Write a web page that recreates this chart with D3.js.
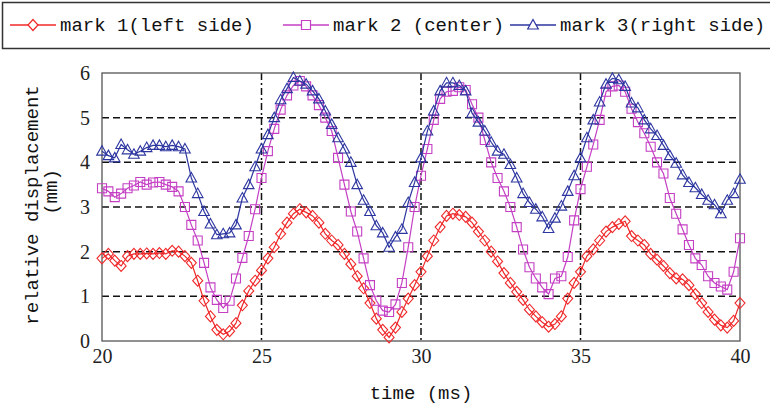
<!DOCTYPE html>
<html>
<head>
<meta charset="utf-8">
<script src="https://cdn.jsdelivr.net/npm/d3@7"></script>
<style>
  body { margin: 0; background: #fff; }
  svg { display: block; }
</style>
</head>
<body>
<svg width="770" height="409"></svg>
<script>
// time axis samples, one every 0.2 ms
var times = d3.range(0, 101).map(function(i) { return +(20 + i * 0.2).toFixed(1); });

var mark1 = [1.85,1.95,1.80,1.68,1.90,1.95,1.95,1.96,1.95,1.97,
             1.95,2.02,2.00,1.90,1.75,1.35,0.90,0.55,0.25,0.15,
             0.22,0.40,0.80,1.12,1.35,1.58,1.85,2.10,2.40,2.65,
             2.85,2.95,2.88,2.80,2.65,2.40,2.25,2.15,1.95,1.72,
             1.45,1.18,0.85,0.50,0.25,0.08,0.30,0.65,0.95,1.25,
             1.55,1.90,2.25,2.55,2.80,2.85,2.82,2.78,2.65,2.45,
             2.25,2.00,1.78,1.52,1.30,1.10,0.92,0.70,0.55,0.42,
             0.32,0.38,0.55,0.95,1.30,1.55,1.90,2.05,2.25,2.45,
             2.55,2.62,2.68,2.35,2.25,2.15,1.95,1.82,1.68,1.52,
             1.40,1.38,1.25,1.05,0.85,0.65,0.48,0.35,0.30,0.45,
             0.85];

var mark2 = [3.42,3.35,3.22,3.30,3.42,3.48,3.56,3.50,3.55,3.56,
             3.50,3.45,3.35,3.00,2.60,2.25,1.75,1.20,0.92,0.74,
             0.90,1.40,1.86,2.35,2.95,3.65,4.25,4.75,5.18,5.50,
             5.72,5.82,5.70,5.50,5.28,5.00,4.70,4.10,3.50,2.90,
             2.45,1.85,1.25,0.90,0.68,0.65,0.82,1.30,2.10,3.00,
             3.70,4.30,4.95,5.42,5.58,5.60,5.68,5.62,5.30,5.00,
             4.50,4.00,3.65,3.35,3.00,2.55,2.05,1.65,1.40,1.20,
             1.05,1.40,1.45,1.88,2.70,3.40,3.90,4.40,4.95,5.58,
             5.70,5.72,5.58,5.20,4.90,4.65,4.35,4.00,3.75,3.20,
             2.85,2.50,2.15,1.85,1.70,1.45,1.30,1.22,1.15,1.55,
             2.30];

var mark3 = [4.25,4.15,4.10,4.40,4.28,4.18,4.25,4.33,4.38,4.38,
             4.35,4.38,4.35,4.30,3.65,3.30,2.90,2.62,2.38,2.40,
             2.42,2.60,3.20,3.50,3.90,4.30,4.62,5.00,5.40,5.65,
             5.90,5.82,5.75,5.60,5.42,5.15,4.85,4.55,4.30,4.00,
             3.50,3.15,2.90,2.58,2.42,2.10,2.33,2.50,3.10,3.55,
             4.10,4.70,5.15,5.60,5.78,5.78,5.72,5.60,5.10,4.90,
             4.70,4.45,4.25,4.18,3.95,3.65,3.30,3.10,2.95,2.78,
             2.52,2.75,3.02,3.35,3.70,4.10,4.55,4.95,5.35,5.75,
             5.88,5.85,5.70,5.33,5.22,4.95,4.75,4.60,4.38,4.15,
             3.98,3.72,3.55,3.43,3.28,3.15,3.05,2.85,3.15,3.30,
             3.62];

var seriesNames = ["mark 1(left side)", "mark 2 (center)", "mark 3(right side)"];
var xTicks = [20, 25, 30, 35, 40];
var yTicks = [0, 1, 2, 3, 4, 5, 6];

var series = [
  { name: seriesNames[0], values: mark1, color: "#f0282a", shape: "diamond" },
  { name: seriesNames[1], values: mark2, color: "#c43fc4", shape: "square" },
  { name: seriesNames[2], values: mark3, color: "#2d36a0", shape: "triangle" }
];

var svg = d3.select("svg");
var plotLeft = 102, plotRight = 740, plotTop = 73, plotBottom = 341;

var xScale = d3.scaleLinear().domain([20, 40]).range([plotLeft, plotRight]);
var yScale = d3.scaleLinear().domain([0, 6]).range([plotBottom, plotTop]);

function markerPath(shape) {
  if (shape === "diamond") return "M0,-5.5L5,0L0,5.5L-5,0Z";
  if (shape === "square") return "M-4.5,-4.5H4.5V4.5H-4.5Z";
  return "M0,-5.5L5.3,4H-5.3Z";
}

// legend box
svg.append("rect")
   .attr("x", 2.5).attr("y", 2.5)
   .attr("width", 780).attr("height", 46)
   .attr("fill", "none")
   .attr("stroke", "#333")
   .attr("stroke-width", 1.5);

var legendX = [10, 283, 510];
var legend = svg.selectAll(".legend")
   .data(series)
   .enter().append("g")
   .attr("class", "legend")
   .attr("transform", function(d, i) { return "translate(" + legendX[i] + ",25)"; });

legend.append("line")
   .attr("x1", 0).attr("x2", 46)
   .attr("stroke", function(d) { return d.color; })
   .attr("stroke-width", 1.4);
legend.append("path")
   .attr("transform", "translate(23,0)")
   .attr("d", function(d) { return markerPath(d.shape); })
   .attr("fill", "#fff")
   .attr("stroke", function(d) { return d.color; })
   .attr("stroke-width", 1.2);
legend.append("text")
   .attr("x", 50)
   .attr("y", 6)
   .attr("font-family", "Liberation Mono, monospace")
   .attr("font-size", "19px")
   .attr("fill", "#111")
   .text(function(d) { return d.name; });

// grid
var g = svg.append("g");
g.selectAll(".hgrid")
 .data(yTicks.slice(1, -1))
 .enter().append("line")
 .attr("x1", plotLeft).attr("x2", plotRight)
 .attr("y1", function(d) { return yScale(d); })
 .attr("y2", function(d) { return yScale(d); })
 .attr("stroke", "#111")
 .attr("stroke-width", 1.5)
 .attr("stroke-dasharray", "7,4");

g.selectAll(".vgrid")
 .data(xTicks.slice(1, -1))
 .enter().append("line")
 .attr("x1", function(d) { return xScale(d); })
 .attr("x2", function(d) { return xScale(d); })
 .attr("y1", plotTop).attr("y2", plotBottom)
 .attr("stroke", "#111")
 .attr("stroke-width", 1.5)
 .attr("stroke-dasharray", "7,3,2,3");

// frame
svg.append("rect")
   .attr("x", plotLeft).attr("y", plotTop)
   .attr("width", plotRight - plotLeft).attr("height", plotBottom - plotTop)
   .attr("fill", "none")
   .attr("stroke", "#555")
   .attr("stroke-width", 1.3);

// axes
var xAxis = svg.append("g")
   .attr("transform", "translate(0," + plotBottom + ")")
   .call(d3.axisBottom(xScale).tickValues(xTicks).tickFormat(d3.format("d")).tickSize(0).tickPadding(8));
var yAxis = svg.append("g")
   .attr("transform", "translate(" + plotLeft + ",0)")
   .call(d3.axisLeft(yScale).tickValues(yTicks).tickFormat(d3.format("d")).tickSize(0).tickPadding(12));
[xAxis, yAxis].forEach(function(a) {
  a.select(".domain").remove();
  a.selectAll("text")
   .attr("font-family", "Liberation Serif, serif")
   .attr("font-size", "20px")
   .attr("fill", "#222");
});

// lines and markers
var line = d3.line()
   .x(function(d, i) { return xScale(times[i]); })
   .y(function(d) { return yScale(d); });

series.forEach(function(s) {
  svg.append("path")
     .datum(s.values)
     .attr("d", line)
     .attr("fill", "none")
     .attr("stroke", s.color)
     .attr("stroke-width", 1.2);
  svg.append("g")
     .selectAll("path")
     .data(s.values)
     .enter().append("path")
     .attr("transform", function(d, i) { return "translate(" + xScale(times[i]) + "," + yScale(d) + ")"; })
     .attr("d", markerPath(s.shape))
     .attr("fill", "none")
     .attr("stroke", s.color)
     .attr("stroke-width", 1.1);
});

// axis titles
svg.append("text")
   .attr("transform", "translate(38,205) rotate(-90)")
   .attr("text-anchor", "middle")
   .attr("font-family", "Liberation Mono, monospace")
   .attr("font-size", "19px")
   .attr("fill", "#111")
   .text("relative displacement");
svg.append("text")
   .attr("transform", "translate(57,192) rotate(-90)")
   .attr("text-anchor", "middle")
   .attr("font-family", "Liberation Mono, monospace")
   .attr("font-size", "19px")
   .attr("fill", "#111")
   .text("(mm)");
svg.append("text")
   .attr("x", 421)
   .attr("y", 399)
   .attr("text-anchor", "middle")
   .attr("font-family", "Liberation Mono, monospace")
   .attr("font-size", "19px")
   .attr("fill", "#111")
   .text("time (ms)");
</script>
</body>
</html>
